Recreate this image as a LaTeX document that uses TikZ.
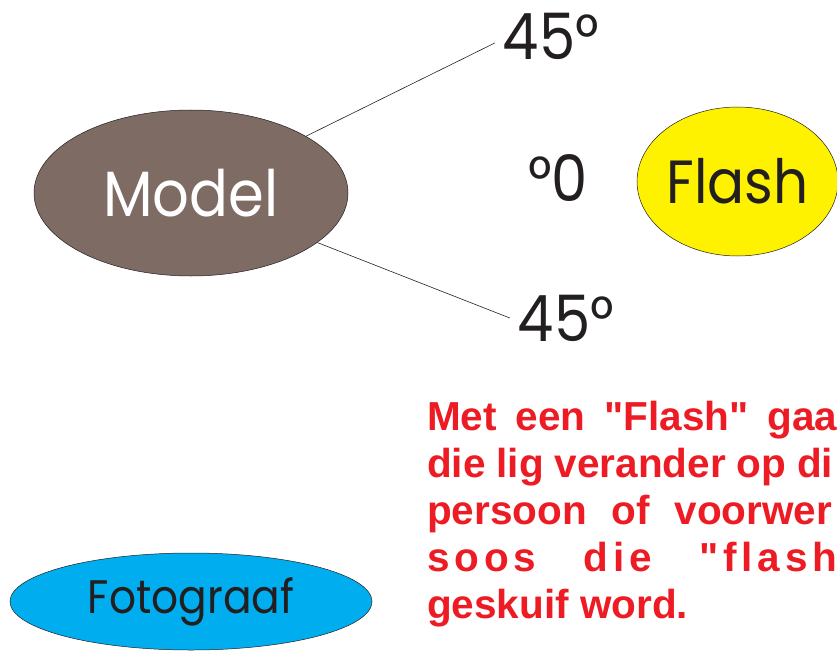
\documentclass[tikz,border=0pt]{standalone}
\usepackage{fontspec}
\setmainfont{Poppins}[FakeStretch = 0.9]
\newfontfamily\notefont{Liberation Sans}
\newfontfamily\notewide{Liberation Sans}[LetterSpace=12]
\usetikzlibrary{shapes.geometric}
\definecolor{modelbrown}{RGB}{126,107,100}
\definecolor{flashyellow}{RGB}{255,242,0}
\definecolor{fotoblue}{RGB}{0,174,239}
\definecolor{notered}{RGB}{237,28,36}
\definecolor{inkblack}{RGB}{35,31,32}
\begin{document}
\begin{tikzpicture}[x = 1pt, y = -1pt,
    blob/.style  = {shape = ellipse, draw = inkblack, line width = 0.5pt, inner sep = 0pt},
    angle/.style = {text = inkblack, inner sep = 8pt, font = \fontsize{64}{64}\selectfont},
    wire/.style  = {draw = inkblack, line width = 0.6pt},
    note/.style  = {text = notered, anchor = base west, inner sep = 0pt,
                    font = \notefont\bfseries\fontsize{40.5}{47}\selectfont}]
  \clip (0,0) rectangle (837,650);
  % the three ellipses
  \node[blob, fill = modelbrown, text = white, minimum width = 314pt, minimum height = 166pt,
        font = \fontsize{64}{64}\selectfont] (model) at (191,193) {Model};
  \node[blob, fill = flashyellow, text = inkblack, minimum width = 199pt, minimum height = 149pt,
        font = \fontsize{61}{61}\selectfont] (flash) at (737.5,181.5) {Flash};
  \node[blob, fill = fotoblue, text = inkblack, minimum width = 362pt, minimum height = 97pt,
        font = \fontsize{47}{47}\selectfont] (foto) at (191,601.5) {Fotograaf};
  % angles
  \node[angle] (up)  at (551,36)  {45°};
  \node[angle] (mid) at (558,178) {°0};
  \node[angle] (low) at (566,318) {45°};
  \draw[wire] (model) -- ([yshift = -7pt]up.west);
  \draw[wire] (model) -- (low.west);
  % red note
  \node[note] (l1) at (427,430) {\makebox[410pt][s]{Met een "Flash" gaa}};
  \node[note] (l2) at (427,477) {\makebox[406pt][s]{die lig verander op di}};
  \node[note] (l3) at (427,524) {\makebox[405pt][s]{persoon of voorwer}};
  \node[note] (l4) at (427,571) {\notewide\bfseries\makebox[410pt][s]{soos die "flash}};
  \node[note] (l5) at (427,618) {geskuif word.};
\end{tikzpicture}
\end{document}
